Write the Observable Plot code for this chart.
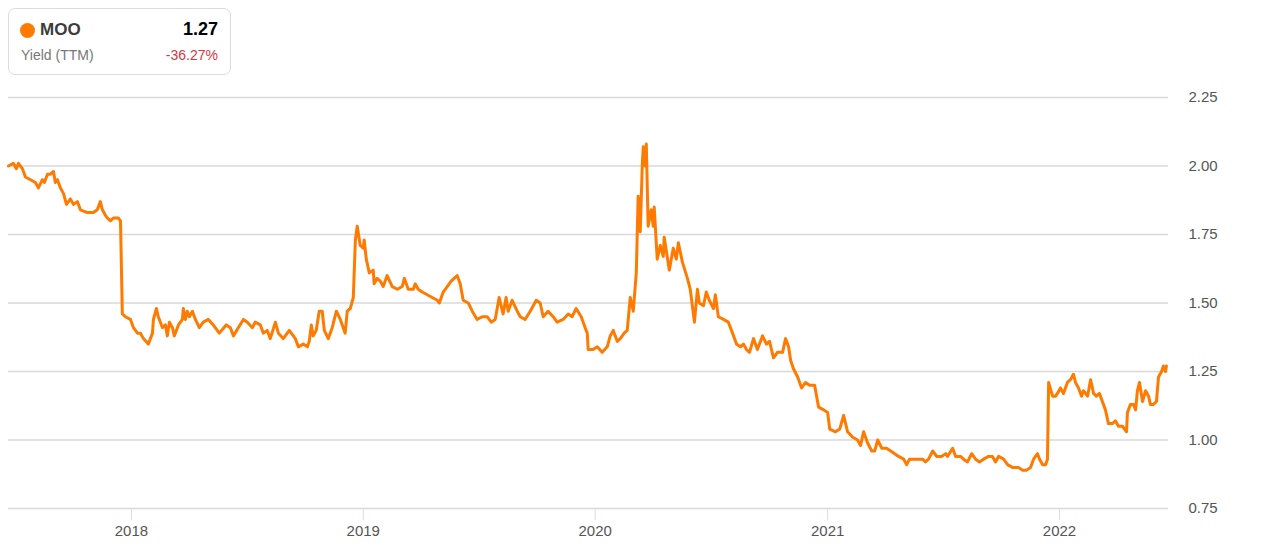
<!DOCTYPE html>
<html>
<head>
<meta charset="utf-8">
<script src="https://cdn.jsdelivr.net/npm/d3@7"></script>
<script src="https://cdn.jsdelivr.net/npm/@observablehq/plot@0.6"></script>
<style>
  html, body { margin: 0; padding: 0; background: #fff; }
  body { font-family: Arial, "Liberation Sans", sans-serif; }
  #wrap { position: relative; width: 1264px; height: 556px; overflow: hidden; }
  #legend {
    position: absolute; left: 8px; top: 8px; width: 221px; height: 65px;
    border: 1px solid #dcdcdc; border-radius: 7px; background: #fff; box-sizing: content-box;
  }
  #legend .dot { position: absolute; left: 11px; top: 14px; width: 15px; height: 15px; border-radius: 50%; background: #ff7a00; }
  #legend .name { position: absolute; left: 31px; top: 11px; font-size: 17px; font-weight: bold; color: #3c3c3c; }
  #legend .val { position: absolute; right: 12px; top: 10px; font-size: 18px; font-weight: bold; color: #000; }
  #legend .sub { position: absolute; left: 12px; top: 38px; font-size: 14px; color: #777; }
  #legend .chg { position: absolute; right: 12px; top: 38px; font-size: 14px; color: #d0393f; }
</style>
</head>
<body>
<div id="wrap">
  <div id="chart"></div>
  <div id="legend">
    <div class="dot"></div>
    <div class="name" id="lgName"></div>
    <div class="val" id="lgVal"></div>
    <div class="sub" id="lgSub"></div>
    <div class="chg" id="lgChg"></div>
  </div>
</div>
<script>
// Series label and legend values
const seriesName = "MOO";
const metricName = "Yield (TTM)";
const latestValue = "1.27";
const changeText = "-36.27%";

// Dates as decimal years
const times = [
2017.470,2017.491,2017.504,2017.513,2017.530,2017.543,2017.565,2017.586,2017.599,2017.616,
2017.625,2017.638,2017.651,2017.664,2017.672,2017.681,2017.694,2017.707,2017.720,2017.737,
2017.750,2017.767,2017.780,2017.810,2017.836,2017.853,2017.866,2017.875,2017.888,2017.897,
2017.909,2017.922,2017.935,2017.944,2017.953,2017.961,2017.974,2017.996,2018.009,2018.026,
2018.039,2018.052,2018.073,2018.091,2018.095,2018.108,2018.116,2018.134,2018.147,2018.155,
2018.164,2018.177,2018.185,2018.203,2018.220,2018.224,2018.233,2018.241,2018.250,2018.263,
2018.276,2018.293,2018.310,2018.332,2018.353,2018.379,2018.409,2018.427,2018.440,2018.461,
2018.483,2018.500,2018.522,2018.534,2018.556,2018.569,2018.586,2018.599,2018.621,2018.634,
2018.655,2018.681,2018.707,2018.720,2018.741,2018.759,2018.767,2018.776,2018.784,2018.797,
2018.810,2018.823,2018.832,2018.849,2018.866,2018.884,2018.901,2018.922,2018.931,2018.944,
2018.957,2018.966,2018.974,2018.987,2019.000,2019.004,2019.013,2019.026,2019.043,2019.047,
2019.060,2019.073,2019.086,2019.103,2019.125,2019.147,2019.168,2019.177,2019.194,2019.216,
2019.224,2019.237,2019.254,2019.276,2019.297,2019.319,2019.328,2019.345,2019.362,2019.379,
2019.405,2019.418,2019.431,2019.453,2019.470,2019.491,2019.513,2019.534,2019.552,2019.569,
2019.586,2019.603,2019.616,2019.625,2019.642,2019.664,2019.677,2019.698,2019.720,2019.746,
2019.763,2019.776,2019.797,2019.819,2019.836,2019.862,2019.884,2019.901,2019.918,2019.940,
2019.957,2019.966,2019.970,2019.991,2020.009,2020.030,2020.052,2020.065,2020.078,2020.095,
2020.108,2020.125,2020.138,2020.151,2020.164,2020.177,2020.185,2020.194,2020.203,2020.207,
2020.216,2020.220,2020.228,2020.241,2020.250,2020.254,2020.267,2020.280,2020.293,2020.297,
2020.319,2020.336,2020.349,2020.358,2020.375,2020.397,2020.409,2020.427,2020.440,2020.448,
2020.466,2020.478,2020.491,2020.509,2020.517,2020.530,2020.552,2020.573,2020.591,2020.608,
2020.625,2020.638,2020.651,2020.664,2020.681,2020.698,2020.720,2020.737,2020.750,2020.767,
2020.784,2020.806,2020.819,2020.832,2020.841,2020.853,2020.871,2020.888,2020.905,2020.922,
2020.944,2020.961,2020.983,2021.000,2021.009,2021.034,2021.052,2021.069,2021.086,2021.108,
2021.129,2021.142,2021.155,2021.172,2021.190,2021.203,2021.216,2021.233,2021.254,2021.272,
2021.289,2021.306,2021.328,2021.341,2021.353,2021.371,2021.388,2021.409,2021.422,2021.435,
2021.453,2021.470,2021.491,2021.509,2021.517,2021.539,2021.552,2021.573,2021.586,2021.603,
2021.621,2021.638,2021.655,2021.672,2021.694,2021.711,2021.724,2021.737,2021.759,2021.776,
2021.797,2021.810,2021.823,2021.841,2021.858,2021.875,2021.888,2021.905,2021.914,2021.927,
2021.940,2021.948,2021.953,2021.970,2021.983,2021.991,2022.004,2022.017,2022.034,2022.047,
2022.060,2022.069,2022.082,2022.095,2022.103,2022.121,2022.134,2022.147,2022.159,2022.172,
2022.185,2022.198,2022.211,2022.228,2022.241,2022.254,2022.272,2022.289,2022.293,2022.306,
2022.319,2022.328,2022.336,2022.345,2022.358,2022.371,2022.384,2022.392,2022.405,2022.418,
2022.427,2022.440,2022.448,2022.457,2022.461
];

// Yield (TTM) values
const yields = [
2.00,2.01,1.99,2.01,1.99,1.96,1.95,1.94,1.92,1.95,
1.94,1.97,1.97,1.98,1.94,1.95,1.92,1.90,1.86,1.88,
1.86,1.87,1.84,1.83,1.83,1.84,1.87,1.84,1.82,1.81,
1.80,1.81,1.81,1.81,1.80,1.46,1.45,1.44,1.41,1.39,
1.39,1.37,1.35,1.39,1.44,1.48,1.45,1.41,1.42,1.38,
1.43,1.41,1.38,1.42,1.44,1.48,1.44,1.47,1.45,1.47,
1.44,1.41,1.43,1.44,1.42,1.39,1.42,1.41,1.38,1.41,
1.44,1.43,1.41,1.43,1.42,1.39,1.40,1.37,1.43,1.39,
1.37,1.40,1.37,1.34,1.35,1.34,1.36,1.42,1.38,1.40,
1.47,1.47,1.40,1.37,1.41,1.47,1.44,1.39,1.47,1.48,
1.52,1.73,1.78,1.71,1.70,1.73,1.66,1.61,1.62,1.57,
1.59,1.58,1.56,1.60,1.56,1.55,1.56,1.59,1.55,1.55,
1.57,1.55,1.54,1.53,1.52,1.51,1.50,1.54,1.56,1.58,
1.60,1.57,1.51,1.50,1.47,1.44,1.45,1.45,1.43,1.44,
1.52,1.46,1.52,1.47,1.51,1.47,1.45,1.44,1.47,1.51,
1.50,1.45,1.47,1.45,1.43,1.44,1.46,1.45,1.48,1.45,
1.41,1.39,1.33,1.33,1.34,1.32,1.34,1.38,1.40,1.36,
1.37,1.39,1.40,1.52,1.47,1.61,1.89,1.76,2.01,2.07,
2.00,2.08,1.78,1.84,1.78,1.85,1.66,1.71,1.67,1.74,
1.62,1.70,1.66,1.72,1.65,1.59,1.55,1.43,1.55,1.50,
1.49,1.54,1.51,1.48,1.53,1.45,1.44,1.43,1.39,1.35,
1.34,1.35,1.33,1.32,1.37,1.33,1.38,1.35,1.36,1.30,
1.32,1.32,1.37,1.34,1.29,1.26,1.23,1.19,1.21,1.20,
1.20,1.12,1.11,1.10,1.04,1.03,1.04,1.09,1.03,1.01,
1.00,0.98,1.03,0.99,0.96,0.96,1.00,0.97,0.97,0.96,
0.95,0.94,0.93,0.91,0.93,0.93,0.93,0.93,0.92,0.93,
0.96,0.94,0.94,0.95,0.94,0.97,0.94,0.94,0.93,0.92,
0.95,0.93,0.92,0.93,0.94,0.94,0.92,0.94,0.93,0.91,
0.90,0.90,0.90,0.89,0.89,0.90,0.93,0.95,0.93,0.91,
0.91,0.93,1.21,1.16,1.16,1.17,1.19,1.17,1.21,1.22,
1.24,1.21,1.19,1.16,1.18,1.16,1.22,1.17,1.16,1.17,
1.14,1.11,1.06,1.06,1.07,1.05,1.05,1.03,1.10,1.13,
1.13,1.11,1.18,1.21,1.14,1.18,1.16,1.13,1.13,1.14,
1.23,1.25,1.27,1.25,1.27
];

// Axis settings
const xDomainYears = [2017.47, 2022.47];
const yDomain = [0.75, 2.25];
const yTicks = [0.75, 1.00, 1.25, 1.50, 1.75, 2.00, 2.25];
const xTickYears = [2018, 2019, 2020, 2021, 2022];

function yearToDate(t) {
  const y = Math.floor(t);
  const a = Date.UTC(y, 0, 1), b = Date.UTC(y + 1, 0, 1);
  return new Date(a + (t - y) * (b - a));
}

const data = times.map((t, i) => ({date: yearToDate(t), value: yields[i]}));
const xTicks = xTickYears.map(y => new Date(Date.UTC(y, 0, 1)));

document.getElementById("lgName").textContent = seriesName;
document.getElementById("lgVal").textContent = latestValue;
document.getElementById("lgSub").textContent = metricName;
document.getElementById("lgChg").textContent = changeText;

const chart = Plot.plot({
  width: 1264,
  height: 556,
  marginLeft: 8,
  marginRight: 96,
  marginTop: 97,
  marginBottom: 48,
  style: {background: "#fff", color: "#555", fontFamily: "Arial, 'Liberation Sans', sans-serif", fontSize: "15px"},
  x: {type: "utc", domain: xDomainYears.map(yearToDate)},
  y: {domain: yDomain},
  marks: [
    Plot.gridY(yTicks, {stroke: "#d9d9d9", strokeOpacity: 1, strokeWidth: 1.5}),
    Plot.axisY(yTicks, {anchor: "right", tickSize: 0, tickPadding: 20, tickFormat: d3.format(".2f"), fontSize: 15, fill: "#555", label: null}),
    Plot.axisX(xTicks, {anchor: "bottom", tickSize: 12, tickPadding: 5, stroke: "#dcdcdc", tickFormat: d => String(d.getUTCFullYear()), fontSize: 15, fill: "#555", label: null}),
    Plot.line(data, {x: "date", y: "value", stroke: "#ff7a00", strokeWidth: 3, strokeLinejoin: "round", curve: "linear"})
  ]
});
document.getElementById("chart").appendChild(chart);
</script>
</body>
</html>
